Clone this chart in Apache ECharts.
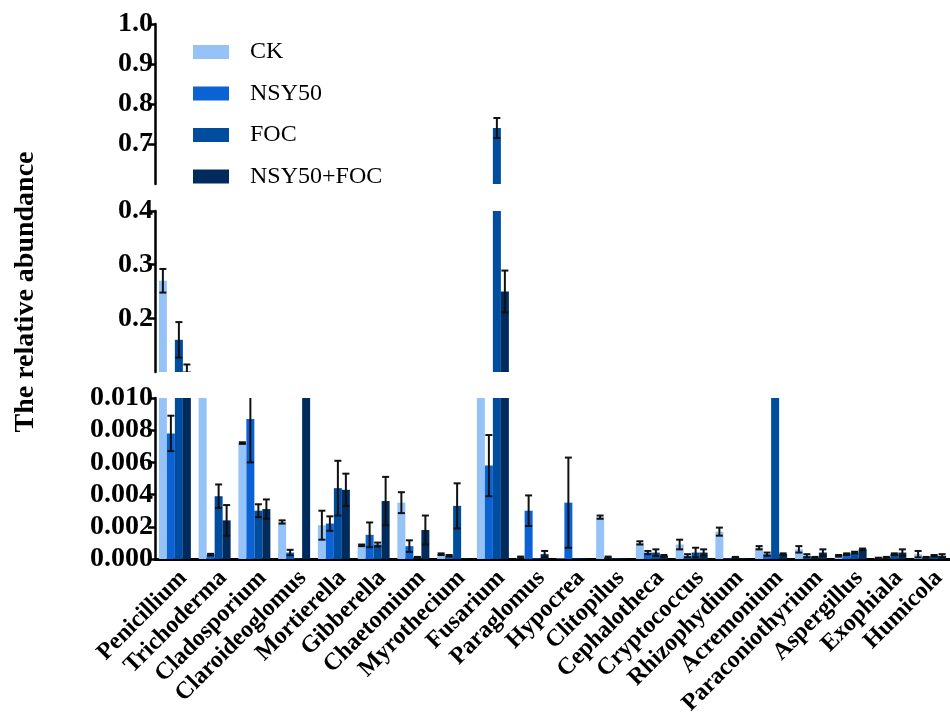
<!DOCTYPE html>
<html>
<head>
<meta charset="utf-8">
<script src="https://cdn.jsdelivr.net/npm/echarts@6/dist/echarts.min.js"></script>
<style>
html,body{margin:0;padding:0;background:#fff;}
#chart{width:950px;height:713px;}
</style>
</head>
<body>
<div id="chart"></div>
<script>
const categories = ['Penicillium','Trichoderma','Cladosporium','Claroideoglomus','Mortierella','Gibberella','Chaetomium','Myrothecium','Fusarium','Paraglomus','Hypocrea','Clitopilus','Cephalotheca','Cryptococcus','Rhizophydium','Acremonium','Paraconiothyrium','Aspergillus','Exophiala','Humicola'];
const seriesNames = ['CK','NSY50','FOC','NSY50+FOC'];

const ckValues    = [0.27, 0.035, 0.0072, 0.0023, 0.0021, 0.00085, 0.0035, 0.0003, 0.06, 0.0001, 0.00003, 0.0026, 0.001, 0.0009, 0.0017, 0.0007, 0.0006, 0.0002, 0.00005, 0.0003];
const ckErrors    = [0.022, 0, 0.00005, 0.0001, 0.0009, 0.00005, 0.00065, 0.00005, 0, 0.00005, 0, 0.0001, 0.0001, 0.0003, 0.00025, 0.0001, 0.0002, 0.00005, 0.00003, 0.0002];
const nsyValues   = [0.0078, 0.00027, 0.0087, 0.0004, 0.0022, 0.0015, 0.0008, 0.0002, 0.0058, 0.003, 0.0035, 0.0001, 0.0004, 0.0002, 0.00003, 0.0003, 0.0002, 0.0003, 0.0001, 0.0001];
const nsyErrors   = [0.0011, 0.00005, 0.0027, 0.00017, 0.00045, 0.00077, 0.00036, 0.00005, 0.0019, 0.00095, 0.0028, 0.00005, 0.0001, 0.0001, 0, 0.0001, 0.0001, 0.00005, 0.00003, 0.00003];
const focValues   = [0.16, 0.0039, 0.003, 0.00003, 0.0044, 0.0009, 0.0001, 0.0033, 0.74, 0.00005, 0.00003, 0.00003, 0.0004, 0.0004, 0.0001, 0.02, 0.0001, 0.0004, 0.0003, 0.0002];
const focErrors   = [0.033, 0.00073, 0.0004, 0, 0.0017, 0.00012, 0.00003, 0.0014, 0.025, 0, 0, 0, 0.0002, 0.0003, 0.00003, 0, 0.00003, 0.00005, 0.00005, 0.00005];
const comboValues = [0.101, 0.0024, 0.0031, 0.025, 0.0043, 0.0036, 0.0018, 0.00003, 0.25, 0.0003, 0.00003, 0.00003, 0.0002, 0.0004, 0.00003, 0.0003, 0.0004, 0.0006, 0.0004, 0.0002];
const comboErrors = [0.013, 0.00095, 0.0006, 0, 0.001, 0.0015, 0.0009, 0, 0.039, 0.0002, 0, 0, 0.00005, 0.0002, 0, 0.00005, 0.0002, 0.00005, 0.0002, 0.0001];

const topTicks = [0.6, 1.0, 0.1];
const midTicks = [0.1, 0.4, 0.1];
const lowTicks = [0, 0.01, 0.002];

const values = [ckValues, nsyValues, focValues, comboValues];
const errors = [ckErrors, nsyErrors, focErrors, comboErrors];
const colors = ['#96c3f7', '#0b62d4', '#004c9e', '#002b5c'];
const BAR_W = 8;
const FONT = '"Liberation Serif", "Times New Roman", serif';

const segs = [
  {top: 24, height: 160, ticks: topTicks, digits: 1},
  {top: 211, height: 161, ticks: midTicks, digits: 1},
  {top: 398, height: 161, ticks: lowTicks, digits: 3}
];

const grid = [], xAxis = [], yAxis = [], series = [];
segs.forEach((sg, g) => {
  grid.push({left: 155, width: 795, top: sg.top, height: sg.height, containLabel: false, outerBoundsMode: 'none'});
  const isBottom = g === 2;
  xAxis.push({
    type: 'category', gridIndex: g, data: categories, show: isBottom,
    axisLine: {show: isBottom, lineStyle: {color: '#000', width: 3}},
    axisTick: {show: false},
    axisLabel: {show: isBottom, interval: 0, rotate: 45, margin: 7, verticalAlign: 'top', color: '#000',
      fontFamily: FONT, fontWeight: 'bold', fontSize: 24}
  });
  yAxis.push({
    type: 'value', gridIndex: g, min: sg.ticks[0], max: sg.ticks[1], interval: sg.ticks[2],
    splitLine: {show: false},
    axisLine: {show: true, lineStyle: {color: '#000', width: 2.5}},
    axisTick: {show: true, inside: false, length: 7, lineStyle: {color: '#000', width: 2.5}},
    axisLabel: {showMinLabel: g === 2, margin: 2, color: '#000', fontFamily: FONT,
      fontWeight: 'bold', fontSize: 28,
      formatter: v => v.toFixed(sg.digits)}
  });
  for (let s = 0; s < 4; s++) {
    series.push({
      type: 'bar', name: seriesNames[s], xAxisIndex: g, yAxisIndex: g,
      data: values[s], barWidth: BAR_W, barGap: '0%', clip: true,
      itemStyle: {color: colors[s]}, silent: true
    });
  }
  for (let s = 0; s < 4; s++) {
    const lo0 = sg.ticks[0], hi0 = sg.ticks[1];
    series.push({
      type: 'custom', xAxisIndex: g, yAxisIndex: g, silent: true,
      data: categories.map((c, i) => [i, values[s][i], errors[s][i]]),
      renderItem: (params, api) => {
        const idx = api.value(0), v = api.value(1), e = api.value(2);
        if (!e) return;
        let lo = v - e, hi = v + e;
        const capLo = lo >= lo0, capHi = hi <= hi0;
        lo = Math.max(lo, lo0); hi = Math.min(hi, hi0);
        if (lo >= hi) return;
        const pLo = api.coord([idx, lo]), pHi = api.coord([idx, hi]);
        const x = pLo[0] + (s - 1.5) * BAR_W;
        const children = [{type: 'line', shape: {x1: x, y1: pLo[1], x2: x, y2: pHi[1]},
          style: {stroke: '#111', lineWidth: 2}}];
        if (capHi) children.push({type: 'line', shape: {x1: x - 3.5, y1: pHi[1], x2: x + 3.5, y2: pHi[1]}, style: {stroke: '#111', lineWidth: 2}});
        if (capLo) children.push({type: 'line', shape: {x1: x - 3.5, y1: pLo[1], x2: x + 3.5, y2: pLo[1]}, style: {stroke: '#111', lineWidth: 2}});
        return {type: 'group', children};
      },
      z: 5
    });
  }
});

const chart = echarts.init(document.getElementById('chart'));
chart.setOption({
  animation: false,
  backgroundColor: '#fff',
  grid, xAxis, yAxis, series,
  legend: {
    data: seriesNames, orient: 'vertical', left: 188, top: 35,
    itemWidth: 36, itemHeight: 14, itemGap: 17.5, icon: 'rect',
    selectedMode: false,
    textStyle: {fontFamily: FONT, fontSize: 24, lineHeight: 22, color: '#000', padding: [0, 0, 0, 16]}
  },
  graphic: [{
    type: 'text', x: 26, y: 292, rotation: Math.PI / 2,
    style: {text: 'The relative abundance', fill: '#000', textAlign: 'center', textVerticalAlign: 'middle',
      font: 'bold 28px ' + FONT}
  }]
});
</script>
</body>
</html>
